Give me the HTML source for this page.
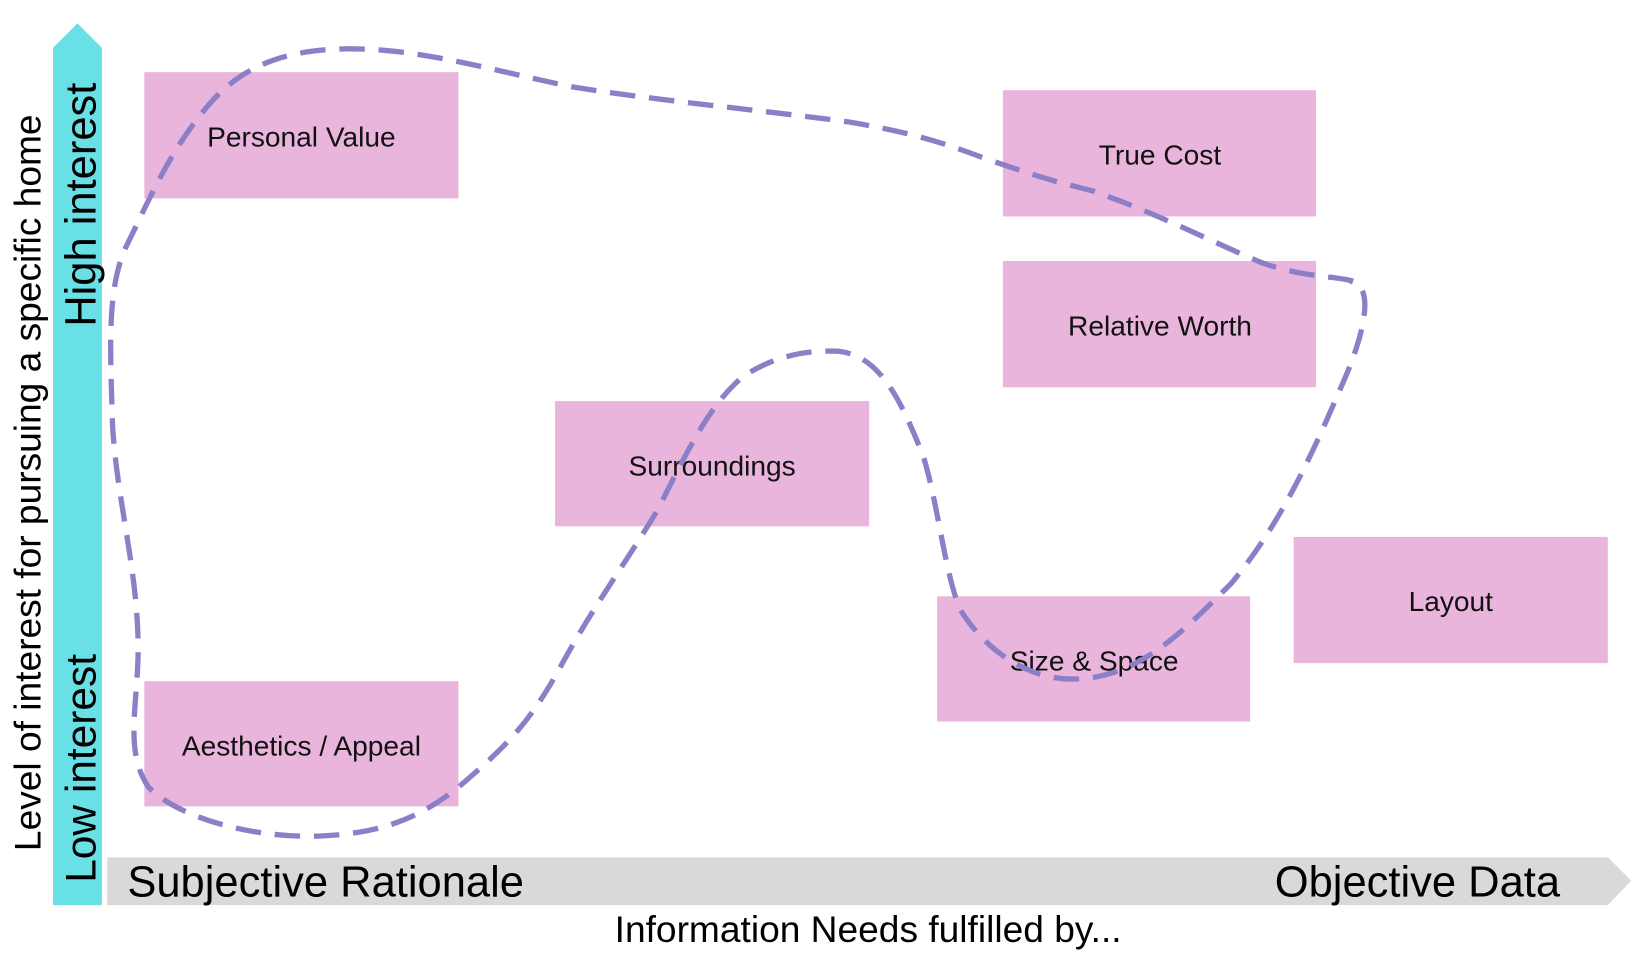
<!DOCTYPE html>
<html><head><meta charset="utf-8"><style>
html,body{margin:0;padding:0;background:#fff;width:1645px;height:956px;overflow:hidden}
svg{display:block}
.bx{fill:#EAB5DC}
.lb{font-family:"Liberation Sans",sans-serif;font-size:26.5px;fill:#111;text-anchor:middle}
.ax{font-family:"Liberation Sans",sans-serif;fill:#000}
</style></head><body>
<svg width="1645" height="956" viewBox="0 0 1550 901" preserveAspectRatio="none">
<polygon points="50,45 73,22 96,45 96,853 50,853" fill="#69E0E6"/>
<polygon points="101,808 1515,808 1537,830 1515,853 101,853" fill="#D9D9D9"/>
<rect class="bx" x="136" y="68" width="296" height="119"/>
<rect class="bx" x="945" y="85" width="295" height="119"/>
<rect class="bx" x="945" y="246" width="295" height="119"/>
<rect class="bx" x="523" y="378" width="296" height="118"/>
<rect class="bx" x="1219" y="506" width="296" height="119"/>
<rect class="bx" x="883" y="562" width="295" height="118"/>
<rect class="bx" x="136" y="642" width="296" height="118"/>
<text class="lb" x="284" y="138">Personal Value</text>
<text class="lb" x="1093" y="155">True Cost</text>
<text class="lb" x="1093" y="316">Relative Worth</text>
<text class="lb" x="671" y="448">Surroundings</text>
<text class="lb" x="1367" y="576">Layout</text>
<text class="lb" x="1031" y="632">Size &amp; Space</text>
<text class="lb" x="284" y="712">Aesthetics / Appeal</text>
<path d="M1275,265 C1260,260 1230,262 1190,248 C1150,232 1100,205 1030,180 C980,168 960,160 930,150 C890,135 860,125 800,115 C720,104 620,95 540,82 C470,68 400,46 330,46 C270,46 230,62 200,95 C160,140 140,190 120,230 C100,270 104,330 106,400 C110,470 128,530 130,600 C132,660 115,705 140,742 C170,772 240,790 300,788 C360,786 400,770 440,735 C480,700 500,680 530,625 C560,570 590,530 620,480 C650,420 670,380 700,355 C730,335 760,330 790,331 C830,335 850,380 870,430 C885,480 890,540 905,575 C930,615 970,640 1010,640 C1070,640 1110,600 1160,550 C1210,490 1240,420 1270,350 C1290,300 1292,268 1272,265" fill="none" stroke="#8B7FC7" stroke-width="5" stroke-dasharray="24 13"/>
<text class="ax" x="120" y="845" font-size="41">Subjective Rationale</text>
<text class="ax" x="1470" y="845" font-size="41" text-anchor="end">Objective Data</text>
<text class="ax" x="818" y="888" font-size="35" text-anchor="middle">Information Needs fulfilled by...</text>
<text class="ax" font-size="41" transform="translate(90,308) rotate(-90)">High interest</text>
<text class="ax" font-size="40" transform="translate(90,832) rotate(-90)">Low interest</text>
<text class="ax" font-size="35" text-anchor="middle" transform="translate(38,455) rotate(-90)">Level of interest for pursuing a specific home</text>
</svg>
</body></html>
